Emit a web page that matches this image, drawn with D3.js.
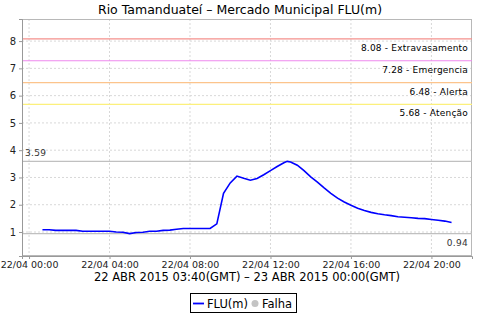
<!DOCTYPE html>
<html>
<head>
<meta charset="utf-8">
<title>Rio Tamanduateí - Mercado Municipal FLU(m)</title>
<script src="https://d3js.org/d3.v7.min.js"></script>
<style>
  body { margin: 0; background: #fff; }
  text { font-family: "DejaVu Sans", sans-serif; }
</style>
</head>
<body>
<svg id="chart" width="480" height="320"></svg>
<script>
// level readings, local time on 22/04
var times = ["00:40","01:00","01:20","01:40","02:00","02:20","02:40","03:00","03:20","03:40",
             "04:00","04:20","04:40","05:00","05:20","05:40","06:00","06:20","06:40","07:00",
             "07:20","07:40","08:00","08:20","08:40","09:00","09:20","09:40","10:00","10:20",
             "10:40","11:00","11:20","11:40","12:00","12:20","12:40","12:50","13:00","13:20",
             "13:40","14:00","14:20","14:40","15:00","15:20","15:40","16:00","16:20","16:40",
             "17:00","17:20","17:40","18:00","18:20","18:40","19:00","19:20","19:40","20:00",
             "20:20","20:40","21:00"];
var levels = [1.08,1.08,1.06,1.06,1.06,1.06,1.03,1.03,1.03,1.03,
              1.03,1.00,0.99,0.94,0.98,0.99,1.03,1.03,1.06,1.07,
              1.10,1.13,1.13,1.13,1.13,1.13,1.30,2.42,2.80,3.05,
              2.97,2.90,2.96,3.10,3.25,3.40,3.54,3.59,3.57,3.45,
              3.25,3.02,2.83,2.62,2.42,2.24,2.10,1.98,1.87,1.79,
              1.72,1.67,1.63,1.60,1.56,1.54,1.52,1.50,1.49,1.46,
              1.43,1.40,1.35];

// alert thresholds
var thresholdValues = [8.08, 7.28, 6.48, 5.68];
var thresholdNames = ["Extravasamento", "Emergencia", "Alerta", "Atenção"];
var thresholdColors = ["#f4908c", "#ee88ee", "#fcc48c", "#fcf07c"];

var xTickLabels = ["00:00","04:00","08:00","12:00","16:00","20:00"];
var yTicks = [1, 2, 3, 4, 5, 6, 7, 8];

var parse = d3.timeParse("%d/%m/%Y %H:%M");
var data = times.map(function(t, i) {
  return { date: parse("22/04/2015 " + t), value: levels[i] };
});

var svg = d3.select("#chart");
var pLeft = 22, pRight = 472, pTop = 19, pBottom = 256;

var t0 = data[0].date, t1 = data[data.length - 1].date;
var pad = (t1 - t0) * 0.05;
var x = d3.scaleTime()
  .domain([new Date(+t0 - pad), new Date(+t1 + pad)])
  .range([pLeft, pRight]);
var y = d3.scaleLinear().domain([0.12, 8.81]).range([pBottom, pTop]);

var maxV = d3.max(levels), minV = d3.min(levels);

// title
svg.append("text")
  .attr("x", 240).attr("y", 14)
  .attr("text-anchor", "middle")
  .attr("font-size", 12.5)
  .text("Rio Tamanduateí – Mercado Municipal FLU(m)");

// gridlines
var xTickDates = xTickLabels.map(function(t) { return parse("22/04/2015 " + t); });
svg.append("g").selectAll("line").data(xTickDates).enter().append("line")
  .attr("x1", function(d) { return x(d); }).attr("x2", function(d) { return x(d); })
  .attr("y1", pTop).attr("y2", pBottom)
  .attr("stroke", "#d8d8d8").attr("stroke-dasharray", "2,2");
svg.append("g").selectAll("line").data(yTicks).enter().append("line")
  .attr("x1", pLeft).attr("x2", pRight)
  .attr("y1", function(d) { return y(d); }).attr("y2", function(d) { return y(d); })
  .attr("stroke", "#d8d8d8").attr("stroke-dasharray", "2,2");

// plot outline
svg.append("rect")
  .attr("x", pLeft + 0.5).attr("y", pTop + 0.5)
  .attr("width", pRight - pLeft - 1).attr("height", pBottom - pTop - 1)
  .attr("fill", "none").attr("stroke", "#b8b8b8");

// threshold lines
thresholdValues.forEach(function(v, i) {
  svg.append("line")
    .attr("x1", pLeft).attr("x2", pRight)
    .attr("y1", y(v)).attr("y2", y(v))
    .attr("stroke", thresholdColors[i]).attr("stroke-width", 1.2);
  svg.append("text")
    .attr("x", pRight - 4).attr("y", y(v) + 12)
    .attr("text-anchor", "end")
    .attr("font-size", 9).attr("letter-spacing", 0.2)
    .text(v.toFixed(2) + " - " + thresholdNames[i]);
});

// max / min lines
svg.append("line")
  .attr("x1", pLeft).attr("x2", pRight).attr("y1", y(maxV)).attr("y2", y(maxV))
  .attr("stroke", "#c0c0c0").attr("stroke-width", 1.2);
svg.append("text")
  .attr("x", pLeft + 3).attr("y", y(maxV) - 5)
  .attr("font-size", 9).attr("letter-spacing", 0.3).attr("fill", "#333")
  .text(maxV.toFixed(2));
svg.append("line")
  .attr("x1", pLeft).attr("x2", pRight).attr("y1", y(minV)).attr("y2", y(minV))
  .attr("stroke", "#c0c0c0").attr("stroke-width", 1.2);
svg.append("text")
  .attr("x", pRight - 4).attr("y", y(minV) + 12)
  .attr("text-anchor", "end")
  .attr("font-size", 9).attr("letter-spacing", 0.3).attr("fill", "#333")
  .text(minV.toFixed(2));

// axes
var yAxis = svg.append("g")
  .attr("transform", "translate(" + pLeft + ",0)")
  .call(d3.axisLeft(y).tickValues(yTicks).tickSize(3).tickPadding(3).tickFormat(d3.format("d")));
yAxis.select(".domain").attr("stroke", "#999");
yAxis.selectAll(".tick line").attr("stroke", "#999");
yAxis.selectAll("text").attr("font-size", 10).attr("font-family", "DejaVu Sans").attr("fill", "#222");

var xAxis = svg.append("g")
  .attr("transform", "translate(0," + pBottom + ")")
  .call(d3.axisBottom(x).tickValues(xTickDates).tickSize(3).tickPadding(2)
    .tickFormat(d3.timeFormat("%d/%m %H:%M")));
xAxis.select(".domain").attr("stroke", "#999");
xAxis.selectAll(".tick line").attr("stroke", "#999");
xAxis.selectAll("text").attr("font-size", 9.5).attr("font-family", "DejaVu Sans").attr("fill", "#222");

// x axis caption
svg.append("text")
  .attr("x", (pLeft + pRight) / 2).attr("y", 281)
  .attr("text-anchor", "middle")
  .attr("font-size", 11.5)
  .text("22 ABR 2015 03:40(GMT) – 23 ABR 2015 00:00(GMT)");

// series line
var line = d3.line()
  .x(function(d) { return x(d.date); })
  .y(function(d) { return y(d.value); });
svg.append("path")
  .datum(data)
  .attr("d", line)
  .attr("fill", "none")
  .attr("stroke", "#0000ff")
  .attr("stroke-width", 1.6);

// legend
var lg = svg.append("g").attr("transform", "translate(190,293)");
lg.append("rect").attr("x", 0.5).attr("y", 0.5).attr("width", 106).attr("height", 19)
  .attr("fill", "#fff").attr("stroke", "#000");
lg.append("line").attr("x1", 3).attr("x2", 14).attr("y1", 10.5).attr("y2", 10.5)
  .attr("stroke", "#0000ff").attr("stroke-width", 1.8);
lg.append("text").attr("x", 17).attr("y", 14.5).attr("font-size", 11.5).text("FLU(m)");
lg.append("circle").attr("cx", 65).attr("cy", 10.5).attr("r", 3.5).attr("fill", "#c4c4c4");
lg.append("text").attr("x", 72).attr("y", 14.5).attr("font-size", 11.5).text("Falha");
</script>
</body>
</html>
